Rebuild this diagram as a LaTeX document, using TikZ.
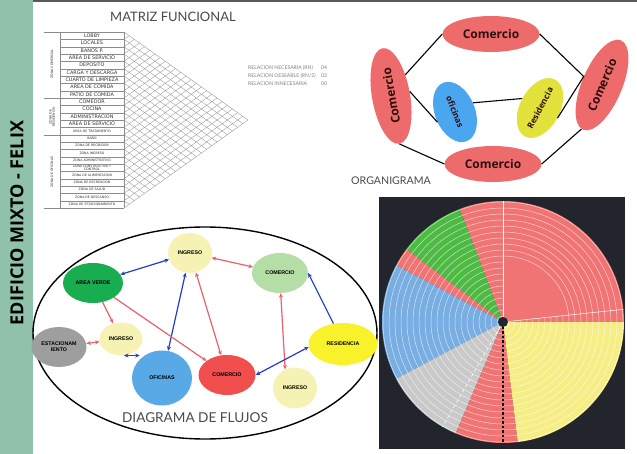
\documentclass[tikz,border=0pt]{standalone}
\usepackage{fontspec}
\setmainfont{Lato}
\newfontfamily\negrita{Open Sans}
\newfontfamily\arial{Liberation Sans}
\newfontfamily\tabla{DejaVu Sans}
\usetikzlibrary{shapes.geometric, arrows.meta}

\definecolor{franja}{HTML}{8FC1AB}
\definecolor{rojoorg}{HTML}{EE6B6B}
\definecolor{azulorg}{HTML}{4AA6EE}
\definecolor{amarorg}{HTML}{E3E23C}
\definecolor{textoorg}{HTML}{2E0E0E}
\definecolor{verdefl}{HTML}{18AD4E}
\definecolor{ingfl}{HTML}{F5F2B4}
\definecolor{comfl}{HTML}{B5DEA6}
\definecolor{estfl}{HTML}{9E9E9E}
\definecolor{ofifl}{HTML}{58A9E6}
\definecolor{rojfl}{HTML}{F14E4E}
\definecolor{resfl}{HTML}{F8F22B}
\definecolor{flecharoja}{HTML}{E8616B}
\definecolor{flechaazul}{HTML}{1F3FC4}
\definecolor{fondopie}{HTML}{22252C}
\definecolor{rojopie}{HTML}{F07473}
\definecolor{verdepie}{HTML}{4DBA44}
\definecolor{azulpie}{HTML}{79AEE3}
\definecolor{grispie}{HTML}{C9C9C9}
\definecolor{amarpie}{HTML}{F6EE85}
\definecolor{titulo}{HTML}{4A4A4A}

\begin{document}
\begin{tikzpicture}[x=1pt, y=-1pt, >={Stealth[length=4.5pt, width=4pt]},
  org/.style={ellipse, inner sep=0pt, fill=rojoorg, text=textoorg,
    font=\negrita\bfseries\fontsize{12}{12}\selectfont,
    minimum width=97pt, minimum height=36pt},
  orgchico/.style={org, font=\negrita\bfseries\fontsize{8.5}{9}\selectfont,
    minimum width=63pt, minimum height=40pt},
  enlace/.style={draw=black, line width=1.1pt},
  flujo/.style={ellipse, inner sep=0pt, align=center, text=black,
    font=\arial\bfseries\fontsize{5.3}{5.8}\selectfont},
  rojo2/.style={draw=flecharoja, line width=1.2pt, <->},
  rojo1/.style={draw=flecharoja, line width=1.2pt, ->},
  azul2/.style={draw=flechaazul, line width=1.2pt, <->},
  azul1/.style={draw=flechaazul, line width=1.2pt, ->},
  fila/.style={inner sep=0pt, text=black!80, font=\tabla\fontsize{4.9}{4.9}\selectfont},
  filachica/.style={fila, align=center, font=\tabla\fontsize{3.2}{3.3}\selectfont},
  rejilla/.style={draw=black!45, line width=0.3pt},
  leyenda/.style={anchor=west, inner sep=0pt, text=black!50, font=\fontsize{5.1}{5.5}\selectfont},
  anillo/.style={draw=white, line width=0.5pt, opacity=0.65}]

  \useasboundingbox (0,0) rectangle (637,454);
  \fill[white] (0,0) rectangle (637,454);

  % Franja
  \fill[franja] (0,0) rectangle (33,454);
  \fill[black!65] (33,0) rectangle (637,2);
  \node[rotate=90, font=\negrita\bfseries\fontsize{18}{18}\selectfont] (edificio) at (17,223)
    {EDIFICIO MIXTO - FELIX};

  % Matriz funcional
  \node[text=titulo, font=\fontsize{13}{13}\selectfont] (tmatriz) at (173,17) {MATRIZ FUNCIONAL};
  \foreach \nom [count=\i] in {LOBBY, LOCALES, BAÑOS P., AREA DE SERVICIO, DEPOSITO,
      CARGA Y DESCARGA, CUARTO DE LIMPIEZA, AREA DE COMIDA, PATIO DE COMIDA,
      COMEDOR, COCINA, ADMINISTRACION, AREA DE SERVICIO}
    \node[fila] (f\i) at (92,{32+(\i-0.5)*176/24}) {\nom};
  \foreach \nom [count=\i from 14] in {AREA DE TRATAMIENTO, BAÑO, ZONA DE RECIBIDOR,
      ZONA INGRESO, ZONA ADMINISTRATIVO, {ZONA CONSTRUCTIVA Y\\CONTROL},
      ZONA DE ALIMENTACION, ZONA DE RECREACION, ZONA DE SALUD, ZONA DE DESCANSO,
      ZONA DE ESTACIONAMIENTO}
    \node[filachica] (f\i) at (92,{32+(\i-0.5)*176/24}) {\nom};
  \foreach \i in {0,...,24}
    \draw[rejilla] (60,{32+\i*176/24}) -- (124,{32+\i*176/24});
  \foreach \i in {0,9,14,24}
    \draw[rejilla] (44,{32+\i*176/24}) -- (60,{32+\i*176/24});
  \draw[rejilla] (60,32) -- (60,208);
  \draw[rejilla] (124,32) -- (124,208);
  \node[filachica, rotate=90] (zona1) at (52,64) {ZONA COMERCIAL};
  \node[filachica, rotate=90] (zona2) at (52,117) {ZONA DE\\RESIDENCIA};
  \node[filachica, rotate=90] (zona3) at (52,172) {ZONA DE OFICINAS};
  \foreach \i in {0,...,24} {
    \pgfmathsetmacro\yy{32+\i*7.3333}
    \draw[rejilla] (124,\yy) -- ({124+(208-\yy)*0.70455},{\yy+(208-\yy)*0.5});
    \draw[rejilla] (124,\yy) -- ({124+(\yy-32)*0.70455},{\yy-(\yy-32)*0.5});
  }
  \node[leyenda] (rn) at (248,68) {RELACION NECESARIA (RN)};
  \node[leyenda] (rd) at (248,76) {RELACION DESEABLE (RN/2)};
  \node[leyenda] (ri) at (248,84) {RELACION INNECESARIA};
  \node[leyenda] (vn) at (321,68) {04};
  \node[leyenda] (vd) at (321,76) {02};
  \node[leyenda] (vi) at (321,84) {00};

  % Organigrama
  \node[org] (ctop) at (491,34) {Comercio};
  \node[org] (cbot) at (493,164) {Comercio};
  \node[org, rotate=100, minimum height=38pt] (cizq) at (391,96) {Comercio};
  \node[org, rotate=67, minimum height=40pt] (cder) at (602,85) {Comercio};
  \node[orgchico, fill=azulorg, rotate=-68] (ofic) at (455,112) {oficinas};
  \node[orgchico, fill=amarorg, rotate=62] (resid) at (540,108) {Residencia};
  \draw[enlace] (ctop.180) -- (cizq.-44);
  \draw[enlace] (ctop.0) -- (cder.88) -- (resid.-92);
  \draw[enlace] (cizq.-86) -- (ofic.-82);
  \draw[enlace] (ofic.95) -- (resid.90);
  \draw[enlace] (cizq.180) -- (cbot.180);
  \draw[enlace] (cbot.0) -- (cder.178);
  \node[text=titulo, font=\fontsize{10.6}{11}\selectfont] (torg) at (391,181) {ORGANIGRAMA};

  % Diagrama de flujos
  \draw[line width=1.4pt] (205,333) ellipse [x radius=172, y radius=106];
  \node[flujo, fill=verdefl, minimum width=60pt, minimum height=40pt] (verde) at (93,283) {AREA VERDE};
  \node[flujo, fill=ingfl, minimum width=44pt, minimum height=40pt] (ingsup) at (190,253) {INGRESO};
  \node[flujo, fill=comfl, minimum width=56pt, minimum height=40pt] (comsup) at (280,273) {COMERCIO};
  \node[flujo, fill=estfl, minimum width=55pt, minimum height=40pt] (estac) at (59,347) {ESTACIONAM\\IENTO};
  \node[flujo, fill=ingfl, minimum width=43pt, minimum height=33pt] (ingmed) at (121,339) {INGRESO};
  \node[flujo, fill=ofifl, minimum width=60pt, minimum height=55pt] (oficinas) at (162,378) {OFICINAS};
  \node[flujo, fill=rojfl, minimum width=57pt, minimum height=40pt] (comroj) at (227,375) {COMERCIO};
  \node[flujo, fill=ingfl, minimum width=44pt, minimum height=41pt] (inginf) at (295,388) {INGRESO};
  \node[flujo, fill=resfl, minimum width=69pt, minimum height=42pt] (resfl) at (343,344) {RESIDENCIA};
  \draw[azul2] (verde) -- (ingsup);
  \draw[azul2] (ingsup) -- (oficinas);
  \draw[rojo2] (ingsup) -- (comsup);
  \draw[rojo2] (ingsup) -- (comroj);
  \draw[rojo1] (verde) -- (ingmed);
  \draw[rojo1] (verde) -- (comroj);
  \draw[rojo2] (estac) -- (ingmed);
  \draw[azul2] (ingmed.-80) -- (ingmed.-80 -| oficinas.140);
  \draw[rojo2] (comsup.-88) -- (inginf.118);
  \draw[azul2] (comroj.0) -- (resfl.185);
  \draw[azul1] (resfl.115) -- (comsup.0);
  \node[text=titulo, font=\fontsize{13.6}{14}\selectfont] (tflujo) at (195,418) {DIAGRAMA DE FLUJOS};

  % Grafico circular
  \fill[fondopie] (379,197) rectangle (625,449);
  \begin{scope}[shift={(503,322)}, y=1pt]
    \fill[rojopie] (0,0) -- (0:121) arc[start angle=0, end angle=111, radius=121] -- cycle;
    \fill[verdepie] (0,0) -- (111:121) arc[start angle=111, end angle=143, radius=121] -- cycle;
    \fill[rojopie] (0,0) -- (143:121) arc[start angle=143, end angle=152, radius=121] -- cycle;
    \fill[azulpie] (0,0) -- (152:121) arc[start angle=152, end angle=208, radius=121] -- cycle;
    \fill[grispie] (0,0) -- (208:121) arc[start angle=208, end angle=247, radius=121] -- cycle;
    \fill[rojopie] (0,0) -- (247:121) arc[start angle=247, end angle=277, radius=121] -- cycle;
    \fill[amarpie] (0,0) -- (277:121) arc[start angle=277, end angle=360, radius=121] -- cycle;
    \foreach \r in {6,12,...,120}
      \draw[anillo] (0,0) circle[radius=\r];
    \fill[rojopie] (0,0) -- (6:62) arc[start angle=6, end angle=90, radius=62] -- cycle;
    \draw[white, line width=0.6pt] (0,0) -- (90:121);
    \draw[white, line width=0.5pt] (0,0) -- (6:121);
    \draw[white, line width=0.6pt, dashed] (0,0) -- (240:121);
    \draw[black, line width=2pt, dash pattern=on 2.5pt off 2pt] (0,0) -- (-90:121);
    \fill[fondopie] (0,0) circle[radius=5];
  \end{scope}
\end{tikzpicture}
\end{document}
